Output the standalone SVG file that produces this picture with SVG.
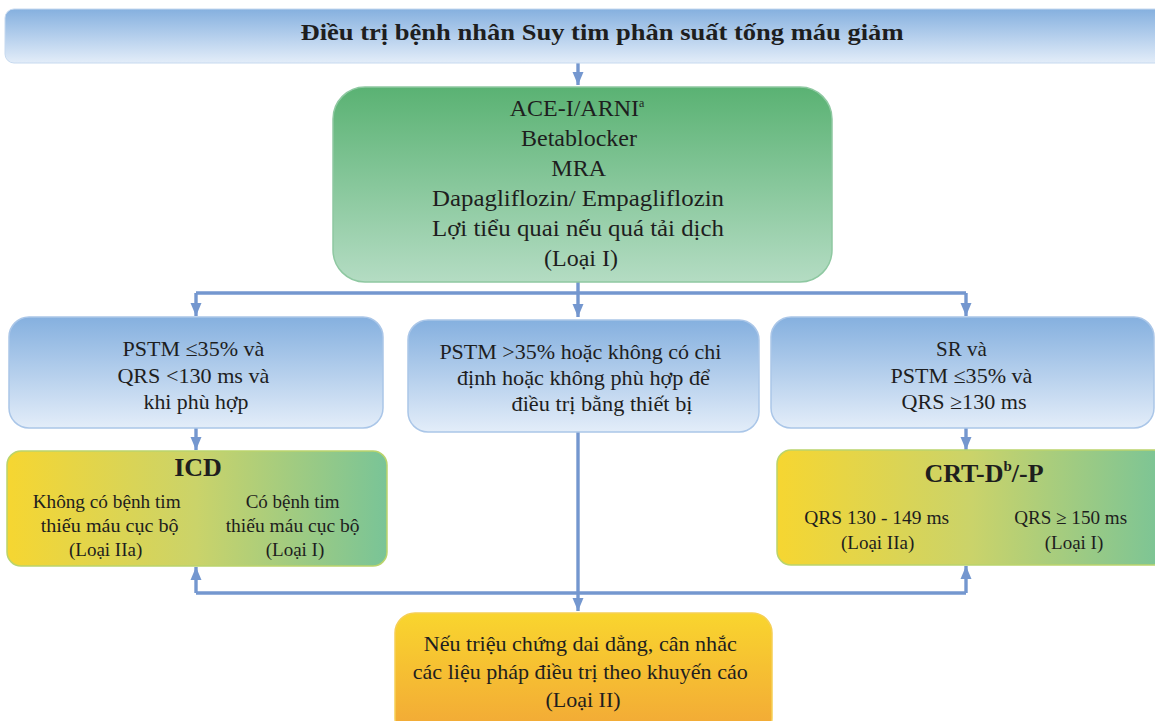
<svg xmlns="http://www.w3.org/2000/svg" width="1155" height="721" viewBox="0 0 1155 721">
  <style>
    text { font-family: "Liberation Serif", "Times New Roman", serif; }
    .t { fill: #1e1e1e; text-anchor: middle; }
    .h { font-weight: bold; }
    .conn { fill: none; stroke: #7497cf; stroke-width: 3.4; }
  </style>
  <defs>
    <linearGradient id="gBlue" x1="0" y1="0" x2="0" y2="1">
      <stop offset="0" stop-color="#85b0df"/>
      <stop offset="1" stop-color="#e3edf9"/>
    </linearGradient>
    <linearGradient id="gGreen" x1="0" y1="0" x2="0" y2="1">
      <stop offset="0" stop-color="#5ab273"/>
      <stop offset="1" stop-color="#b4dcc3"/>
    </linearGradient>
    <linearGradient id="gYG" x1="0" y1="0" x2="1" y2="0">
      <stop offset="0" stop-color="#f6d631"/>
      <stop offset="0.5" stop-color="#cad36a"/>
      <stop offset="1" stop-color="#79c497"/>
    </linearGradient>
    <linearGradient id="gOrange" x1="0" y1="0" x2="0" y2="1">
      <stop offset="0" stop-color="#f9d52e"/>
      <stop offset="1" stop-color="#f2a637"/>
    </linearGradient>
    <marker id="arr" markerUnits="userSpaceOnUse" markerWidth="13" markerHeight="12" viewBox="0 0 13 12" refX="13" refY="6" orient="auto">
      <path d="M0,0.5 L13,6 L0,11.5 Z" fill="#7497cf"/>
    </marker>
  </defs>

  <!-- connectors -->
  <g id="connectors">
    <path class="conn" d="M578,63 V85" marker-end="url(#arr)"/>
    <path class="conn" d="M578,282 V293 M196,293 H966"/>
    <path class="conn" d="M196,293 V316" marker-end="url(#arr)"/>
    <path class="conn" d="M578,293 V317" marker-end="url(#arr)"/>
    <path class="conn" d="M966,293 V316" marker-end="url(#arr)"/>
    <path class="conn" d="M196,428 V450" marker-end="url(#arr)"/>
    <path class="conn" d="M966,428 V450" marker-end="url(#arr)"/>
    <path class="conn" d="M578,432 V611" marker-end="url(#arr)"/>
    <path class="conn" d="M196,593 H966"/>
    <path class="conn" d="M196,593 V567" marker-end="url(#arr)"/>
    <path class="conn" d="M966,593 V566" marker-end="url(#arr)"/>
  </g>

  <!-- title -->
  <g id="title">
    <rect x="5" y="9" width="1160" height="54" rx="9" fill="url(#gBlue)" stroke="#c6d9ef" stroke-width="1"/>
    <text class="t h" x="602" y="40" font-size="24" textLength="603" lengthAdjust="spacingAndGlyphs">Điều trị bệnh nhân Suy tim phân suất tống máu giảm</text>
  </g>

  <!-- first-line therapy -->
  <g id="therapy">
    <rect x="333" y="87" width="499" height="195" rx="32" fill="url(#gGreen)" stroke="#8ec8a1" stroke-width="1.5"/>
    <text class="t" font-size="24">
      <tspan x="580" y="116">ACE-I/ARNI<tspan font-size="12" dy="-9">a</tspan></tspan>
      <tspan x="582" y="146">Betablocker</tspan>
      <tspan x="581" y="176">MRA</tspan>
      <tspan x="581" y="206" textLength="292" lengthAdjust="spacingAndGlyphs">Dapagliflozin/ Empagliflozin</tspan>
      <tspan x="581" y="236" textLength="292" lengthAdjust="spacingAndGlyphs">Lợi tiểu quai nếu quá tải dịch</tspan>
      <tspan x="581" y="266">(Loại I)</tspan>
    </text>
  </g>

  <!-- criteria boxes -->
  <g id="crit-icd">
    <rect x="9" y="317" width="374" height="111" rx="20" fill="url(#gBlue)" stroke="#aac6e8" stroke-width="1.5"/>
    <text class="t" font-size="21">
      <tspan x="196" y="356" textLength="142" lengthAdjust="spacingAndGlyphs">PSTM ≤35% và</tspan>
      <tspan x="196" y="383" textLength="152" lengthAdjust="spacingAndGlyphs">QRS &lt;130 ms và</tspan>
      <tspan x="196" y="409" textLength="105" lengthAdjust="spacingAndGlyphs">khi phù hợp</tspan>
    </text>
  </g>

  <g id="crit-none">
    <rect x="408" y="320" width="351" height="112" rx="20" fill="url(#gBlue)" stroke="#aac6e8" stroke-width="1.5"/>
    <text class="t" font-size="21">
      <tspan x="583" y="359" textLength="282" lengthAdjust="spacingAndGlyphs">PSTM &gt;35% hoặc không có chi</tspan>
      <tspan x="586" y="385" textLength="253" lengthAdjust="spacingAndGlyphs">định hoặc không phù hợp để</tspan>
      <tspan x="602" y="411" textLength="181" lengthAdjust="spacingAndGlyphs">điều trị bằng thiết bị</tspan>
    </text>
  </g>

  <g id="crit-crt">
    <rect x="771" y="317" width="383" height="111" rx="20" fill="url(#gBlue)" stroke="#aac6e8" stroke-width="1.5"/>
    <text class="t" font-size="21">
      <tspan x="964" y="356">SR và</tspan>
      <tspan x="964" y="383" textLength="142" lengthAdjust="spacingAndGlyphs">PSTM ≤35% và</tspan>
      <tspan x="964" y="409" textLength="125" lengthAdjust="spacingAndGlyphs">QRS ≥130 ms</tspan>
    </text>
  </g>

  <!-- devices -->
  <g id="icd">
    <rect x="7" y="451" width="380" height="115" rx="14" fill="url(#gYG)" stroke="#bad46c" stroke-width="1.5"/>
    <text class="t h" x="198" y="476" font-size="26">ICD</text>
    <text class="t" font-size="19">
      <tspan x="109" y="508" textLength="148" lengthAdjust="spacingAndGlyphs">Không có bệnh tim</tspan>
      <tspan x="112" y="532" textLength="138" lengthAdjust="spacingAndGlyphs">thiếu máu cục bộ</tspan>
      <tspan x="108" y="556">(Loại IIa)</tspan>
      <tspan x="295" y="508" textLength="94" lengthAdjust="spacingAndGlyphs">Có bệnh tim</tspan>
      <tspan x="295" y="532" textLength="134" lengthAdjust="spacingAndGlyphs">thiếu máu cục bộ</tspan>
      <tspan x="295" y="556">(Loại I)</tspan>
    </text>
  </g>

  <g id="crt">
    <rect x="777" y="450" width="390" height="115" rx="14" fill="url(#gYG)" stroke="#bad46c" stroke-width="1.5"/>
    <text class="t h" x="984" y="482" font-size="26">CRT-D<tspan font-size="15" dy="-11">b</tspan><tspan dy="11">/-P</tspan></text>
    <text class="t" font-size="19">
      <tspan x="879" y="524" textLength="145" lengthAdjust="spacingAndGlyphs">QRS 130 - 149 ms</tspan>
      <tspan x="880" y="549">(Loại IIa)</tspan>
      <tspan x="1073" y="524" textLength="113" lengthAdjust="spacingAndGlyphs">QRS ≥ 150 ms</tspan>
      <tspan x="1074" y="549">(Loại I)</tspan>
    </text>
  </g>

  <!-- persistent symptoms -->
  <g id="persistent">
    <rect x="395" y="613" width="377" height="125" rx="20" fill="url(#gOrange)" stroke="#f6cf55" stroke-width="1.5"/>
    <text class="t" font-size="22">
      <tspan x="583" y="651" textLength="313" lengthAdjust="spacingAndGlyphs">Nếu triệu chứng dai dẳng, cân nhắc</tspan>
      <tspan x="583" y="679" textLength="335" lengthAdjust="spacingAndGlyphs">các liệu pháp điều trị theo khuyến cáo</tspan>
      <tspan x="583" y="707">(Loại II)</tspan>
    </text>
  </g>
</svg>
